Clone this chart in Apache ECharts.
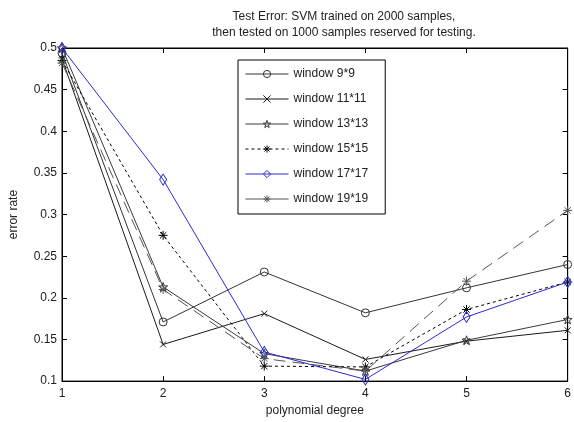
<!DOCTYPE html>
<html>
<head>
<meta charset="utf-8">
<script src="https://cdn.jsdelivr.net/npm/echarts@6/dist/echarts.min.js"></script>
<style>html,body{margin:0;padding:0;background:#fff}#c{width:574px;height:422px}</style>
</head>
<body>
<div id="c"></div>
<script>
const degrees = [1, 2, 3, 4, 5, 6];
const seriesNames = ['window 9*9', 'window 11*11', 'window 13*13', 'window 15*15', 'window 17*17', 'window 19*19'];
const win9 = [0.494, 0.171, 0.231, 0.182, 0.212, 0.240];
const win11 = [0.487, 0.144, 0.181, 0.126, 0.148, 0.161];
const win13 = [0.500, 0.213, 0.133, 0.112, 0.149, 0.174];
const win15 = [0.485, 0.275, 0.118, 0.117, 0.186, 0.219];
const win17 = [0.500, 0.342, 0.135, 0.102, 0.177, 0.219];
const win19 = [0.482, 0.210, 0.127, 0.112, 0.220, 0.305];
const yTicks = [0.1, 0.15, 0.2, 0.25, 0.3, 0.35, 0.4, 0.45, 0.5];

function starPath() {
  let d = '';
  for (let i = 0; i < 10; i++) {
    const r = i % 2 === 0 ? 5 : 2;
    const a = -Math.PI / 2 + i * Math.PI / 5;
    d += (i === 0 ? 'M' : 'L') + (5 + r * Math.cos(a)).toFixed(3) + ',' + (5 + r * Math.sin(a)).toFixed(3);
  }
  return 'path://' + d + 'Z';
}
const asterisk = 'path://M5,0L5,10M0,5L10,5M1.5,1.5L8.5,8.5M8.5,1.5L1.5,8.5';
const cross = 'path://M0,0L10,10M10,0L0,10';

const allData = [win9, win11, win13, win15, win17, win19];
const colors = ['#333333', '#1a1a1a', '#3a3a3a', '#000000', '#2a2ad0', '#555555'];
const symbols = ['circle', cross, starPath(), asterisk, 'diamond', asterisk];
const symSizes = [8, 6, 9, 9, [7, 11], 9];
const dashes = ['solid', 'solid', 'solid', [3, 3], 'solid', [12, 7]];

const series = seriesNames.map((n, i) => ({
  name: n,
  type: 'line',
  data: degrees.map((d, j) => [d, allData[i][j]]),
  symbol: symbols[i],
  symbolSize: symSizes[i],
  showAllSymbol: true,
  lineStyle: { color: colors[i], width: 1, type: dashes[i] },
  itemStyle: { color: 'rgba(255,255,255,0)', borderColor: colors[i], borderWidth: 1 },
  emphasis: { disabled: true },
  animation: false,
  z: i === 4 ? 5 : 3
}));

const chart = echarts.init(document.getElementById('c'));
const axisLineStyle = { color: '#000', width: 1 };
chart.setOption({
  animation: false,
  title: {
    text: 'Test Error: SVM trained on 2000 samples,\nthen tested on 1000 samples reserved for testing.',
    left: 339, top: 4, textAlign: 'center',
    textStyle: { fontFamily: 'Liberation Sans, Arial', fontSize: 12, fontWeight: 'normal', color: '#222', lineHeight: 16 }
  },
  grid: { left: 62, right: 6, top: 48, bottom: 38, show: true, borderColor: '#000', borderWidth: 1, backgroundColor: '#fff' },
  legend: {
    orient: 'vertical', left: 238, top: 60,
    data: seriesNames.map((n, i) => ({ name: n, lineStyle: { type: i === 5 ? 'solid' : dashes[i], width: 1 }, itemStyle: { borderWidth: 1 } })),
    itemWidth: 43, itemHeight: 9, itemGap: 11,
    padding: [7, 17, 8, 7],
    borderColor: '#000', borderWidth: 1, backgroundColor: '#fff',
    textStyle: { fontFamily: 'Liberation Sans, Arial', fontSize: 12, color: '#222', lineHeight: 14 },
    selectedMode: false
  },
  xAxis: [{
    type: 'value', min: 1, max: 6, interval: 1,
    name: 'polynomial degree', nameLocation: 'middle', nameGap: 22,
    nameTextStyle: { fontFamily: 'Liberation Sans, Arial', fontSize: 12, color: '#222' },
    axisLine: { lineStyle: axisLineStyle },
    axisTick: { inside: true, length: 5, lineStyle: axisLineStyle },
    axisLabel: { fontFamily: 'Liberation Sans, Arial', fontSize: 12, color: '#222', margin: 7 },
    splitLine: { show: false }
  }, {
    type: 'value', min: 1, max: 6, interval: 1, position: 'top',
    axisLine: { lineStyle: axisLineStyle },
    axisTick: { inside: true, length: 5, lineStyle: axisLineStyle },
    axisLabel: { show: false }, splitLine: { show: false }
  }],
  yAxis: [{
    type: 'value', min: yTicks[0], max: yTicks[yTicks.length - 1], interval: 0.05,
    name: 'error rate', nameLocation: 'middle', nameGap: 42,
    nameTextStyle: { fontFamily: 'Liberation Sans, Arial', fontSize: 12, color: '#222' },
    axisLine: { show: true, lineStyle: axisLineStyle },
    axisTick: { show: true, inside: true, length: 5, lineStyle: axisLineStyle },
    axisLabel: { fontFamily: 'Liberation Sans, Arial', fontSize: 12, color: '#222', margin: 5,
      formatter: v => String(+v.toFixed(2)) },
    splitLine: { show: false }
  }, {
    type: 'value', min: yTicks[0], max: yTicks[yTicks.length - 1], interval: 0.05, position: 'right',
    axisLine: { show: true, lineStyle: axisLineStyle },
    axisTick: { show: true, inside: true, length: 5, lineStyle: axisLineStyle },
    axisLabel: { show: false }, splitLine: { show: false }
  }],
  series: series
});
</script>
</body>
</html>
